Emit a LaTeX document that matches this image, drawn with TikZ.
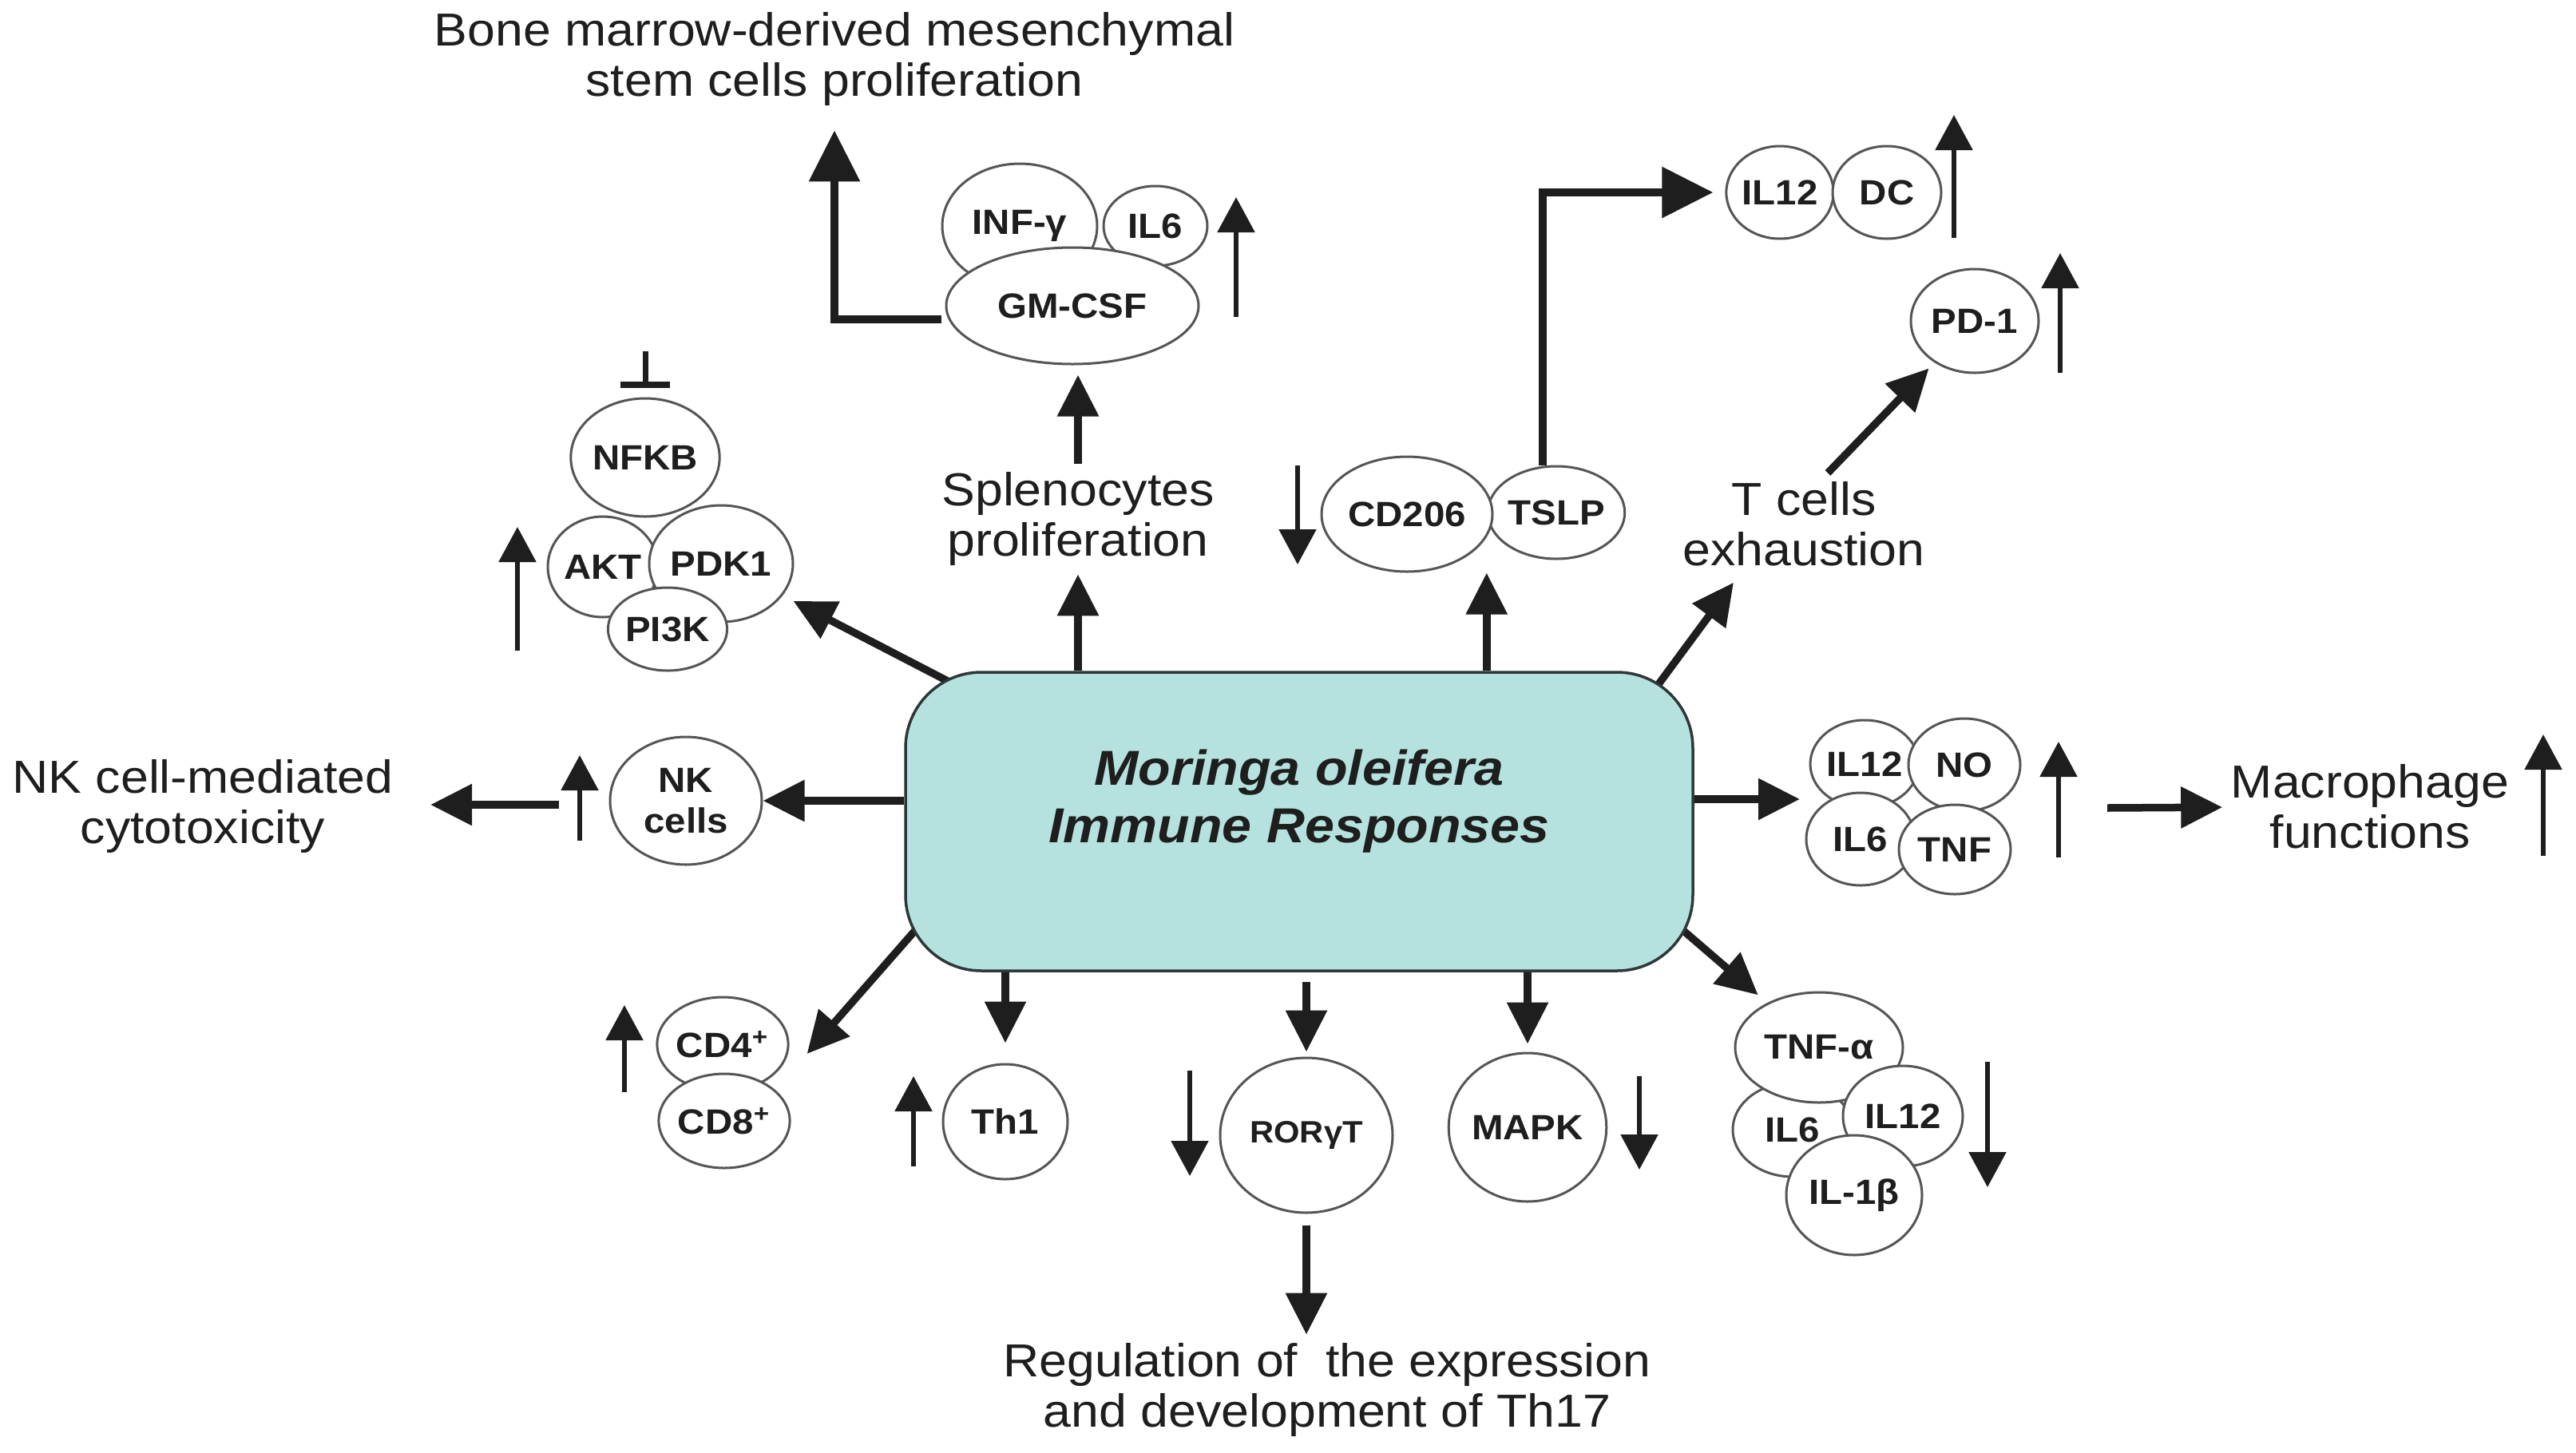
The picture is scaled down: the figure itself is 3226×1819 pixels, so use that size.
\documentclass[tikz,border=0pt]{standalone}
\usepackage{fontspec}
\setmainfont{Liberation Sans}[FakeStretch=1.08]
\usetikzlibrary{positioning,calc,shapes.geometric,arrows.meta,backgrounds}
\definecolor{InkDark}{HTML}{1E1E1E}
\definecolor{RingGray}{HTML}{555555}
\definecolor{BoxTeal}{HTML}{B5E2DE}
\definecolor{BoxEdge}{HTML}{2F3838}

\begin{document}
\begin{tikzpicture}[x=0.1mm, y=-0.1mm,
    mol/.style={ellipse, draw=RingGray, fill=white, line width=0.3mm, inner sep=0pt, align=center, text=InkDark, font=\fontsize{12.5}{14.5}\selectfont\bfseries},
    outtext/.style={align=center, inner sep=1mm, text=InkDark, font=\fontsize{16.5}{18}\selectfont},
    mainbox/.style={rectangle, draw=BoxEdge, fill=BoxTeal, line width=0.35mm, rounded corners=9.5mm, minimum width=98.6mm, minimum height=37.4mm, align=center, text=InkDark, font=\fontsize{17.5}{20.5}\selectfont\bfseries\itshape},
    bigarrow/.style={draw=InkDark, line width=0.95mm, -{Triangle[width=5mm,length=5.2mm]}},
    elbowarrow/.style={draw=InkDark, line width=0.95mm, -{Triangle[width=6.2mm,length=6.4mm]}},
    updown/.style={draw=InkDark, line width=0.55mm, -{Triangle[width=4.6mm,length=4.4mm]}},
    blocker/.style={draw=InkDark, line width=0.7mm, -{Bar[width=6.2mm,line width=0.8mm]}}]
  \useasboundingbox (0,0) rectangle (3226,1819);

  % Nodes
  \node[mainbox] (box) at (1627,1029) {Moringa oleifera\\Immune Responses\rule[-6.4mm]{0pt}{0pt}};

  \node[outtext] (bone) at (1045,74) {Bone marrow-derived mesenchymal\\stem cells proliferation};
  \node[outtext] (spleno) at (1350,650) {Splenocytes\\proliferation};
  \node[outtext] (tcell) at (2259,656) {T cells\\exhaustion};
  \node[outtext] (nkcyto) at (254,1010) {NK cell-mediated\\cytotoxicity};
  \node[outtext] (macro) at (2968,1010) {Macrophage\\functions};
  \node[outtext] (reg) at (1662,1741) {Regulation of\ \ the expression\\and development of Th17};

  % top cluster
  \node[mol, minimum width=19.4mm, minimum height=15.6mm] (infg) at (1277,283) {INF-γ};
  \node[mol, minimum width=13mm, minimum height=10mm] (ilsix) at (1447,283) {IL6};
  \node[mol, minimum width=31.6mm, minimum height=14.6mm] (gmcsf) at (1343,383) {GM-CSF};

  % NFKB cluster
  \node[mol, minimum width=13.6mm, minimum height=12.6mm] (akt) at (755,710) {AKT};
  \node[mol, minimum width=18mm, minimum height=14.6mm] (pdk) at (903,706) {PDK1};
  \node[mol, minimum width=14.8mm, minimum height=10.4mm] (pik) at (836,788) {PI3K};
  \node[mol, minimum width=18.6mm, minimum height=14.8mm] (nfkb) at (808,573) {NFKB};

  \node[mol, minimum width=19mm, minimum height=16mm] (nk) at (859,1003) {NK\\cells};

  \node[mol, minimum width=16mm, minimum height=11.8mm] (cdf) at (905,1308) {CD4\textsuperscript{+}};
  \node[mol, minimum width=16mm, minimum height=11.8mm] (cde) at (907,1404) {CD8\textsuperscript{+}};

  \node[mol, minimum width=15.6mm, minimum height=14.4mm] (th1) at (1259,1405) {Th1};
  \node[mol, minimum width=21.6mm, minimum height=19.4mm, font=\fontsize{11}{13}\selectfont\bfseries] (ror) at (1636,1422) {RORγT};
  \node[mol, minimum width=19.6mm, minimum height=18.6mm] (mapk) at (1913,1412) {MAPK};

  % lower right cluster
  \node[mol, minimum width=15mm, minimum height=11.8mm] (il6c) at (2245,1415) {IL6};
  \node[mol, minimum width=21mm, minimum height=13.8mm] (tnfa) at (2278,1312) {TNF-α};
  \node[mol, minimum width=15mm, minimum height=12.6mm] (il12d) at (2383,1398) {IL12};
  \node[mol, minimum width=17mm, minimum height=15mm] (ilb) at (2322,1497) {IL-1β};

  % right cluster
  \node[mol, minimum width=13.6mm, minimum height=11mm] (il12b) at (2335,957) {IL12};
  \node[mol, minimum width=14mm, minimum height=11.6mm] (nob) at (2460,958) {NO};
  \node[mol, minimum width=13.6mm, minimum height=11.6mm] (il6b) at (2330,1051) {IL6};
  \node[mol, minimum width=14mm, minimum height=11.2mm] (tnfb) at (2448,1064) {TNF};

  % upper right
  \node[mol, minimum width=16.2mm, minimum height=11.6mm] (tslp) at (1949,642) {TSLP};
  \node[mol, minimum width=21.4mm, minimum height=14.4mm] (cd206) at (1762,644) {CD206};
  \node[mol, minimum width=13.2mm, minimum height=11.6mm] (il12c) at (2229,241) {IL12};
  \node[mol, minimum width=13.6mm, minimum height=11.6mm] (dc) at (2363,241) {DC};
  \node[mol, minimum width=16mm, minimum height=13mm] (pd1) at (2473,402) {PD-1};

  \coordinate (nfkbin) at (808,440);
  \coordinate (nkout) at (700,1008);
  \coordinate (rclin) at (2262,1001);
  \coordinate (macout) at (2639,1012);

  % Arrows leaving the box, drawn behind it
  \begin{scope}[on background layer]
    \draw[bigarrow] (box.north -| spleno) -- (spleno.south);
    \draw[bigarrow, shorten >=1.5mm] ($(box.north west)+(82,27)$) -- (pdk);
    \draw[bigarrow] (box.west |- nk) -- (nk);
    \draw[bigarrow] ($(box.south west)+(81,-129)$) -- ($(cdf.east)+(22,12)$);
    \draw[bigarrow, shorten >=2.5mm] (box.south -| th1) -- (th1);
    \draw[bigarrow, shorten <=1.2mm, shorten >=0.6mm] (box.south -| ror) -- (ror);
    \draw[bigarrow, shorten >=1mm] (box.south -| mapk) -- (mapk);
    \draw[bigarrow, shorten >=1.5mm] ($(box.south east)+(-89,-117)$) -- (tnfa);
    \draw[bigarrow, shorten >=0.8mm] ($(box.east)+(0,-28)$) -- (rclin);
    \draw[bigarrow] (box.north -| tslp.west) -- (tslp.west |- cd206.south);
    \draw[bigarrow] ($(box.north east)+(-70,51)$) -- ($(tcell.south)+(-88,10)$);
  \end{scope}

  % Arrows
  \draw[elbowarrow, shorten >=2mm] ($(gmcsf.west)+(-5,17)$) -| (bone.south);
  \draw[bigarrow, shorten >=1.2mm] (spleno.north) -- (spleno.north |- gmcsf.south);
  \draw[updown] (1548,397) -- (1548,247);

  \draw[blocker, shorten >=1.2mm] (nfkbin) -- (nfkb.north);
  \draw[updown] (648,815) -- (648,660);

  \draw[updown] (726,1053) -- (726,946);
  \draw[bigarrow, shorten >=3.6mm] (nkout) -- (nkout -| nkcyto.east);

  \draw[updown] (782,1368) -- (782,1259);
  \draw[updown] (1144,1461) -- (1144,1348);

  \draw[updown] (1490,1341) -- (1490,1473);
  \draw[bigarrow, shorten <=1.4mm] (ror.south) -- (ror.south |- reg.north);
  \draw[updown] (2053,1348) -- (2053,1465);
  \draw[updown] (2489,1330) -- (2489,1487);

  \draw[updown] (2578,1074) -- (2578,929);
  \draw[bigarrow] (macout) -- (macro);
  \draw[updown] (3185,1072) -- (3185,920);

  \draw[updown] (1625,583) -- (1625,707);
  \draw[elbowarrow, shorten >=1.5mm] ($(tslp.north)+(-17,0)$) |- (il12c.west);
  \draw[updown] (2447,298) -- (2447,144);

  \draw[bigarrow, shorten >=1mm] ($(tcell.north)+(30,0)$) -- (pd1);
  \draw[updown] (2580,467) -- (2580,317);
\end{tikzpicture}
\end{document}
